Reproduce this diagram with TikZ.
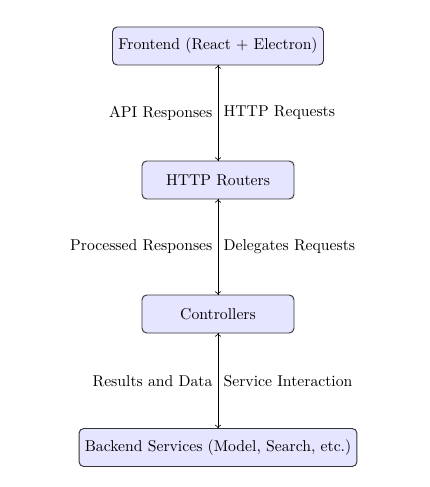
\documentclass[tikz,border=0pt]{standalone}
\usetikzlibrary{positioning}
\begin{document}
\begin{tikzpicture}[x=0.6369pt,y=-0.6369pt,
  box/.style={draw=black!80, line width=0.6pt, fill=blue!10, rounded corners=3pt, minimum height=24.2pt, align=center, inner sep=3pt},
  conn/.style={->, line width=0.5pt},
  lbl/.style={inner sep=3.33pt}]
\useasboundingbox (0,0) rectangle (429,487);
\node[box, minimum width=134.4pt] (fe) at (218,46) {Frontend (React + Electron)};
\node[box, minimum width=96.8pt] (hr) at (218,180) {HTTP Routers};
\node[box, minimum width=96.8pt] (ct) at (218,314) {Controllers};
\node[box, minimum width=177pt] (bs) at (218,447.5) {Backend Services (Model, Search, etc.)};
\draw[conn] (fe) -- node[lbl, right] {HTTP Requests} (hr);
\draw[conn] (hr) -- node[lbl, left] {API Responses} (fe);
\draw[conn] (hr) -- node[lbl, right] {Delegates Requests} (ct);
\draw[conn] (ct) -- node[lbl, left] {Processed Responses} (hr);
\draw[conn] (ct) -- node[lbl, right] {Service Interaction} (bs);
\draw[conn] (bs) -- node[lbl, left] {Results and Data} (ct);
\end{tikzpicture}
\end{document}
